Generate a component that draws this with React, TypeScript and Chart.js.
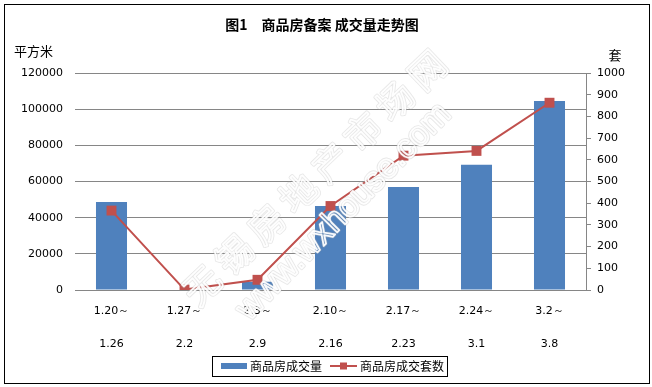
import React, { useEffect, useRef } from 'react';
import { Chart, registerables } from 'chart.js';

Chart.register(...registerables);

// ---- data ----
const periodStart = ['1.20～', '1.27～', '2.3～', '2.10～', '2.17～', '2.24～', '3.2～'];
const periodEnd = ['1.26', '2.2', '2.9', '2.16', '2.23', '3.1', '3.8'];
const areaValues = [48700, 0, 4600, 46500, 57000, 69200, 104500];
const unitValues = [366, 2, 47, 387, 619, 641, 863];

const TITLE = '图1　商品房备案 成交量走势图';
const SERIES_AREA = '商品房成交量';
const SERIES_UNITS = '商品房成交套数';
const LEFT_UNIT = '平方米';
const RIGHT_UNIT = '套';
const WATERMARK_CN = '无锡房地产市场网';
const WATERMARK_URL = 'www.wxhouse.com';

const BAR_COLOR = '#4F81BD';
const LINE_COLOR = '#C0504D';
const GRID_COLOR = '#868686';
const CJK = '"Noto Sans CJK SC", sans-serif';
const LATIN = '"DejaVu Sans", sans-serif';

const decorPlugin = {
  id: 'decor',
  afterDatasetsDraw(chart: any) {
    const ctx = chart.ctx as CanvasRenderingContext2D;
    ctx.save();
    ctx.textAlign = 'center';
    ctx.textBaseline = 'middle';
    ctx.lineJoin = 'round';
    // Chinese watermark
    const ang = (-43.7 * Math.PI) / 180;
    const cx = 314.5;
    const cy = 177.5;
    const step = 44.5;
    ctx.font = '36px ' + CJK;
    const chars = Array.from(WATERMARK_CN);
    chars.forEach((ch, i) => {
      const d = (i - (chars.length - 1) / 2) * step;
      ctx.save();
      ctx.translate(cx + d * Math.cos(ang), cy + d * Math.sin(ang));
      ctx.rotate(ang);
      ctx.lineWidth = 3.5;
      ctx.strokeStyle = 'rgba(170,170,170,0.28)';
      ctx.strokeText(ch, 0, 0);
      ctx.lineWidth = 1.8;
      ctx.strokeStyle = 'rgba(255,255,255,0.95)';
      ctx.strokeText(ch, 0, 0);
      ctx.restore();
    });
    // URL watermark
    const ang2 = (-45.4 * Math.PI) / 180;
    ctx.save();
    ctx.translate(344, 212);
    ctx.rotate(ang2);
    ctx.font = '34px "Liberation Sans", sans-serif';
    ctx.lineWidth = 3.5;
    ctx.strokeStyle = 'rgba(170,170,170,0.28)';
    ctx.strokeText(WATERMARK_URL, 0, 0);
    ctx.lineWidth = 1.8;
    ctx.strokeStyle = 'rgba(255,255,255,0.95)';
    ctx.strokeText(WATERMARK_URL, 0, 0);
    ctx.restore();
    ctx.restore();
  },
  afterDraw(chart: any) {
    const ctx = chart.ctx as CanvasRenderingContext2D;
    ctx.save();
    // outer border
    ctx.strokeStyle = '#000';
    ctx.lineWidth = 1;
    ctx.strokeRect(4.5, 4.5, 645, 379);
    // title
    ctx.fillStyle = '#000';
    ctx.textAlign = 'center';
    ctx.textBaseline = 'middle';
    ctx.font = 'bold 14px ' + CJK;
    ctx.fillText(TITLE, 322, 25);
    // axis units
    ctx.font = '13px ' + CJK;
    ctx.textAlign = 'left';
    ctx.fillText(LEFT_UNIT, 14, 51);
    ctx.textAlign = 'center';
    ctx.fillText(RIGHT_UNIT, 615, 55);
    // legend
    ctx.strokeStyle = '#000';
    ctx.lineWidth = 1;
    ctx.strokeRect(212.5, 356.5, 235, 20);
    ctx.fillStyle = BAR_COLOR;
    ctx.fillRect(221, 363, 26, 6);
    ctx.fillStyle = '#000';
    ctx.font = '12px ' + CJK;
    ctx.textAlign = 'left';
    ctx.fillText(SERIES_AREA, 250, 366);
    ctx.strokeStyle = LINE_COLOR;
    ctx.lineWidth = 2;
    ctx.beginPath();
    ctx.moveTo(330, 366);
    ctx.lineTo(357, 366);
    ctx.stroke();
    ctx.fillStyle = LINE_COLOR;
    ctx.fillRect(340, 362.5, 7, 7);
    ctx.fillStyle = '#000';
    ctx.fillText(SERIES_UNITS, 360, 366);
    ctx.restore();
  },
};

export default function App() {
  const canvasRef = useRef<HTMLCanvasElement | null>(null);

  useEffect(() => {
    document.body.style.margin = '0';
    const canvas = canvasRef.current;
    if (!canvas) return;
    const labels = periodStart.map((s, i) => [s, periodEnd[i]]);
    const chart = new Chart(canvas, {
      type: 'bar',
      data: {
        labels,
        datasets: [
          {
            type: 'line',
            label: SERIES_UNITS,
            data: unitValues,
            yAxisID: 'y1',
            borderColor: LINE_COLOR,
            backgroundColor: LINE_COLOR,
            borderWidth: 2,
            pointStyle: 'rect',
            pointRadius: 7,
            pointBackgroundColor: LINE_COLOR,
            pointBorderColor: LINE_COLOR,
            pointBorderWidth: 0,
            tension: 0,
            order: 1,
          } as any,
          {
            type: 'bar',
            label: SERIES_AREA,
            data: areaValues,
            yAxisID: 'y',
            backgroundColor: BAR_COLOR,
            borderWidth: 0,
            barPercentage: 0.425,
            categoryPercentage: 1,
            order: 2,
          } as any,
        ],
      },
      options: {
        responsive: false,
        devicePixelRatio: 1,
        animation: false,
        layout: { padding: { top: 73, bottom: 27, left: 0, right: 0 } },
        plugins: {
          legend: { display: false },
          title: { display: false },
          tooltip: { enabled: false },
        },
        scales: {
          x: {
            offset: true,
            grid: { display: false, drawTicks: false },
            border: { display: false },
            ticks: {
              autoSkip: false,
              maxRotation: 0,
              minRotation: 0,
              padding: 5,
              color: '#000',
              font: { family: LATIN, size: 11, lineHeight: '33px' } as any,
            },
            afterFit: (scale: any) => {
              scale.height = 70;
            },
          },
          y: {
            position: 'left',
            min: 0,
            max: 120000,
            grid: { color: GRID_COLOR, lineWidth: 1, drawTicks: false },
            border: { display: false },
            ticks: {
              stepSize: 20000,
              padding: 12,
              color: '#000',
              font: { family: LATIN, size: 11 },
              callback: (v: any) => String(v),
            },
            afterFit: (scale: any) => {
              scale.width = 75;
            },
          },
          y1: {
            position: 'right',
            min: 0,
            max: 1000,
            grid: {
              drawOnChartArea: false,
              drawTicks: true,
              tickLength: 5,
              color: GRID_COLOR,
            },
            border: { display: true, color: GRID_COLOR, width: 1 },
            ticks: {
              stepSize: 100,
              padding: 6,
              color: '#000',
              font: { family: LATIN, size: 11 },
              callback: (v: any) => String(v),
            },
            afterFit: (scale: any) => {
              scale.width = 66;
            },
          },
        },
      },
      plugins: [decorPlugin],
    });
    return () => {
      chart.destroy();
    };
  }, []);

  return (
    <canvas
      ref={canvasRef}
      width={652}
      height={387}
      style={{ display: 'block', width: 652, height: 387 }}
    />
  );
}
